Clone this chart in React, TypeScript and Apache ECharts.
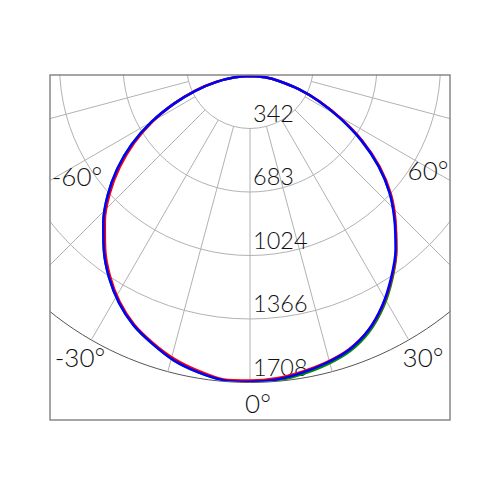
import React, { useEffect, useRef } from "react";
import * as echarts from "echarts";

// Angles of the photometric curve (degrees, 0 = straight down, positive to the right)
const ANGLES = [
  -90, -85, -80, -75, -70, -65, -60, -55, -50, -45, -40, -35, -30, -25, -20, -15, -10, -5,
  0, 5, 10, 15, 20, 25, 30, 35, 40, 45, 50, 55, 60, 65, 70, 75, 80, 85, 90,
];

// Luminous intensity (cd) per angle
const GREEN = [
  0, 84, 189, 313, 451, 607, 762, 905, 1037, 1158, 1269, 1372, 1462, 1536, 1591, 1643, 1678, 1704,
  1710, 1708, 1690, 1667, 1634, 1575, 1489, 1384, 1271, 1144, 1018, 875, 716, 553, 407, 279, 167, 84, 0,
];
const RED = [
  0, 87, 194, 319, 451, 599, 746, 888, 1023, 1146, 1258, 1363, 1455, 1530, 1585, 1634, 1670, 1700,
  1700, 1694, 1676, 1654, 1622, 1565, 1480, 1378, 1270, 1149, 1027, 884, 725, 560, 412, 281, 168, 84, 0,
];
const BLUE = [
  0, 84, 189, 313, 451, 607, 762, 905, 1037, 1158, 1269, 1372, 1462, 1536, 1591, 1643, 1678, 1704,
  1706, 1700, 1681, 1657, 1624, 1565, 1478, 1374, 1264, 1141, 1018, 875, 716, 553, 407, 279, 167, 84, 0,
];

const RADIUS_STEP = 341.6;
const RADIUS_MAX = 1708;
const RADIUS_LABELS = ["342", "683", "1024", "1366", "1708"];
const ANGLE_LABELS = ["-60°", "60°", "-30°", "30°", "0°"];
const ANGLE_LABEL_POS: [number, number][] = [
  [77, 176],
  [428, 170],
  [80, 357],
  [423, 357],
  [258, 403],
];

const FONT = "Lato, 'Open Sans', sans-serif";

export default function App() {
  const ref = useRef<HTMLDivElement>(null);
  useEffect(() => {
    if (!ref.current) return;
    const chart = echarts.init(ref.current, null, { renderer: "svg" });
    const toData = (vals: number[]) =>
      vals.map((v, i) => [v, (ANGLES[i] + 360) % 360]);
    const hidden = {
      axisLine: { show: false },
      axisTick: { show: false },
      axisLabel: { show: false },
      splitLine: { show: false },
      splitArea: { show: false },
    };
    const lineSeries = (name: string, vals: number[], color: string) => ({
      name,
      type: "line",
      coordinateSystem: "polar",
      polarIndex: 1,
      data: toData(vals),
      showSymbol: false,
      symbol: "none",
      smooth: 0.3,
      clip: false,
      lineStyle: { color, width: 2.5 },
      z: 5,
    });
    const option: any = {
      animation: false,
      backgroundColor: "#ffffff",
      polar: [
        { center: [250, 65], radius: [63.5, 317.5] },
        { center: [250, 76], radius: 306 },
      ],
      angleAxis: [
        {
          polarIndex: 0,
          type: "value",
          min: 0,
          max: 360,
          interval: 15,
          startAngle: 270,
          clockwise: false,
          axisLine: { show: false },
          axisTick: { show: false },
          axisLabel: { show: false },
          splitLine: { show: true, lineStyle: { color: "#b2b2b2", width: 1 } },
        },
        {
          polarIndex: 1,
          type: "value",
          min: 0,
          max: 360,
          startAngle: 270,
          clockwise: false,
          ...hidden,
        },
      ],
      radiusAxis: [
        {
          polarIndex: 0,
          type: "value",
          min: RADIUS_STEP,
          max: RADIUS_MAX,
          interval: RADIUS_STEP,
          axisLine: { show: false },
          axisTick: { show: false },
          splitLine: {
            show: true,
            lineStyle: {
              color: ["#b2b2b2", "#b2b2b2", "#b2b2b2", "#b2b2b2", "#555555"],
              width: 1,
            },
          },
          axisLabel: {
            show: true,
            margin: 0,
            align: "left",
            verticalAlign: "bottom",
            padding: [0, 0, 4, 3],
            fontFamily: FONT,
            fontWeight: 300,
            fontSize: 23.5,
            color: "#111",
            formatter: (val: number) => {
              const idx = Math.round(val / RADIUS_STEP) - 1;
              return RADIUS_LABELS[idx] ?? "";
            },
          },
        },
        {
          polarIndex: 1,
          type: "value",
          min: 0,
          max: RADIUS_MAX,
          ...hidden,
        },
      ],
      series: [
        lineSeries("green", GREEN, "#008a00"),
        lineSeries("red", RED, "#ff0000"),
        lineSeries("blue", BLUE, "#0000ff"),
      ],
      graphic: [
        { type: "rect", z: 100, shape: { x: 0, y: 0, width: 500, height: 74.5 }, style: { fill: "#fff" } },
        { type: "rect", z: 100, shape: { x: 0, y: 420.5, width: 500, height: 80 }, style: { fill: "#fff" } },
        { type: "rect", z: 100, shape: { x: 0, y: 0, width: 49.5, height: 500 }, style: { fill: "#fff" } },
        { type: "rect", z: 100, shape: { x: 450.5, y: 0, width: 50, height: 500 }, style: { fill: "#fff" } },
        {
          type: "rect",
          z: 101,
          shape: { x: 50, y: 75, width: 400, height: 345 },
          style: { fill: "none", stroke: "#888", lineWidth: 1.5 },
        },
        ...ANGLE_LABELS.map((t, i) => ({
          type: "text",
          z: 102,
          x: ANGLE_LABEL_POS[i][0],
          y: ANGLE_LABEL_POS[i][1],
          style: {
            text: t,
            fontFamily: FONT,
            fontWeight: 300,
            fontSize: 26,
            fill: "#111",
            align: "center",
            verticalAlign: "middle",
          },
        })),
      ],
    };
    chart.setOption(option);
    return () => chart.dispose();
  }, []);
  return (
    <div
      ref={ref}
      style={{ position: "absolute", left: 0, top: 0, width: 500, height: 500, background: "#fff" }}
    />
  );
}
